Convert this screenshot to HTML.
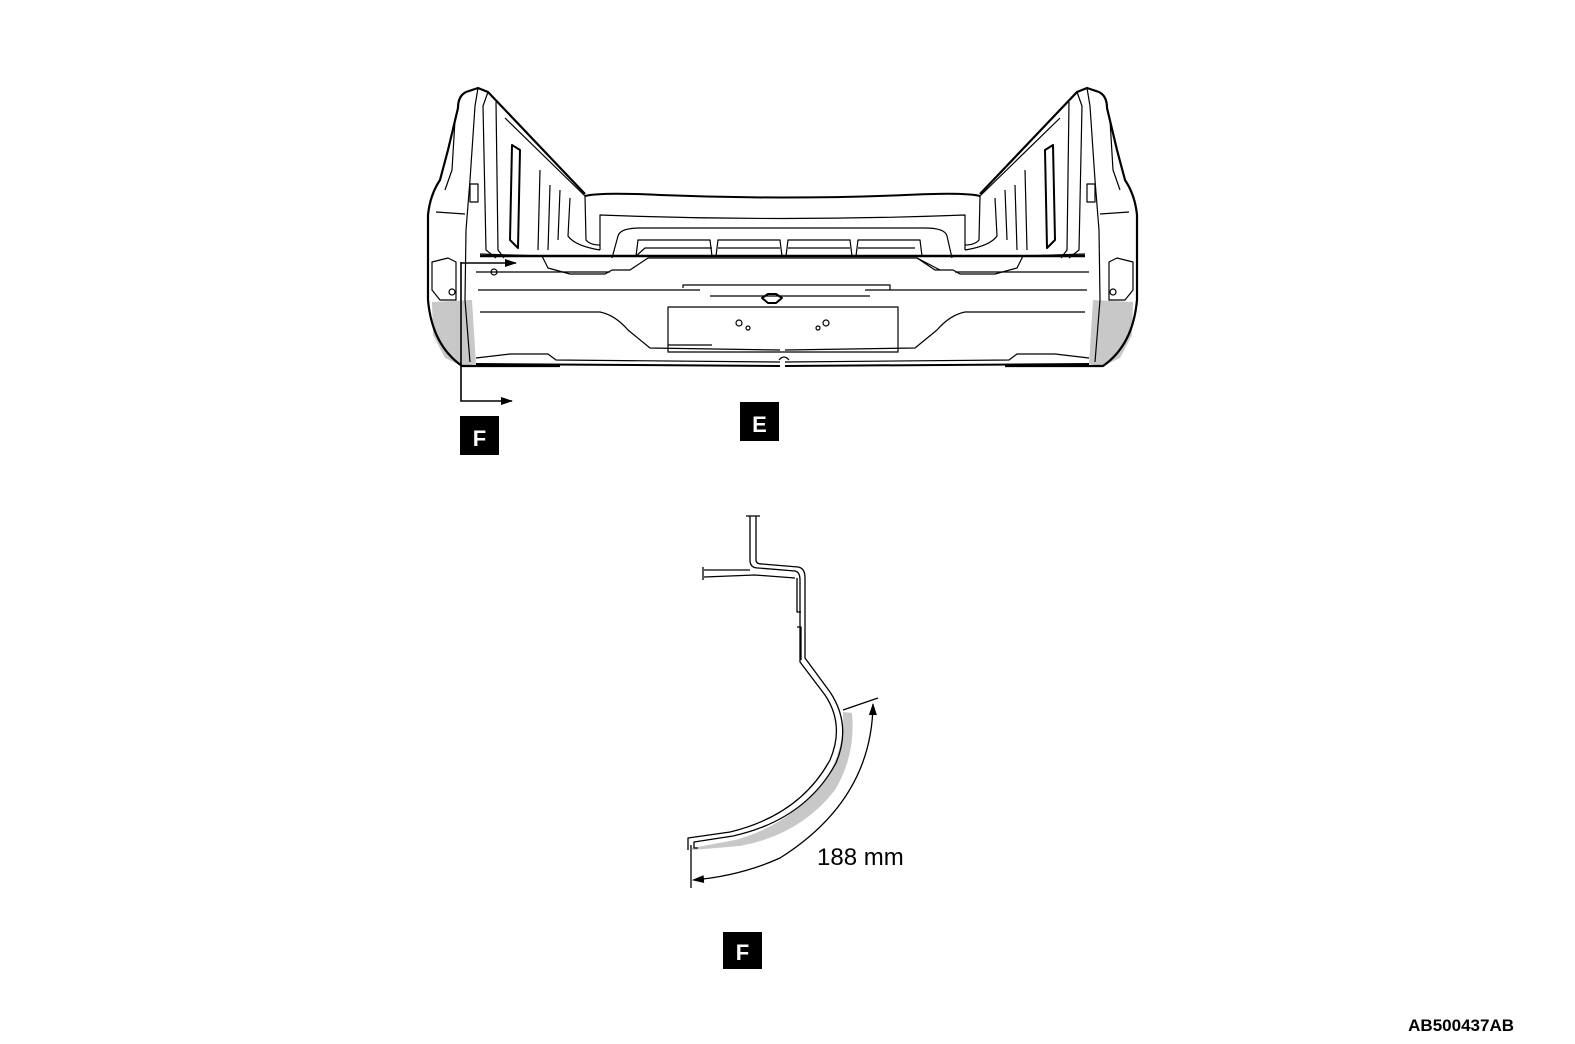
<!DOCTYPE html>
<html><head><meta charset="utf-8"><style>
html,body{margin:0;padding:0;background:#fff;}
svg{display:block;}
text{font-family:"Liberation Sans",Arial,sans-serif;}
</style></head><body>
<svg width="1575" height="1044" viewBox="0 0 1575 1044" xmlns="http://www.w3.org/2000/svg">
<defs>
<marker id="ah" markerWidth="12" markerHeight="8" refX="11" refY="4" orient="auto-start-reverse" markerUnits="userSpaceOnUse">
<path d="M0,0 L12,4 L0,8 z" fill="#000"/></marker>
</defs>
<g fill="none" stroke="#000" stroke-width="1.2" stroke-linejoin="round">
<g id="half">
<path d="M432,302 L433,335 L445,358 L462,366 L476,364 L472,300 Z" fill="#c8c8c8" stroke="none"/>
<path d="M466,92 L478,88 L488,92 L585,194" stroke-width="2.2"/>
<path d="M466,92 Q458,96 458,108 L448,150 L440,180 Q430,195 428,215 L428,300 Q432,345 462,366 L560,366" stroke-width="2.2"/>
<path d="M478,88 L475,106 L470,180 L466,230 L465,300 L470,362"/>
<path d="M488,92 L483,106 L486,250 L496,258"/>
<path d="M496,102 L498,250 L504,258"/>
<path d="M436,212 L465,214"/>
<path d="M445,190 L452,170 L455,120"/>
<path d="M505,118 L585,196"/>
<path d="M512,145 L510,240 L518,248 L520,150 Z" stroke-width="2"/>
<path d="M540,170 L538,250 M550,185 L548,250 M560,190 L558,240 M570,198 L568,236 Q575,246 600,250"/>
<path d="M585,196 L586,240 Q590,245 600,245"/>
<path d="M432,262 L448,258 L456,262 L456,300 L440,300 L432,290 Z"/>
<circle cx="452" cy="292" r="3"/>
<path d="M480,254 L542,256 L548,268 L570,274 L605,274 L612,270 L630,270 L648,258"/>
<path d="M476,272 L610,272"/>
<path d="M478,290 L700,290"/>
<path d="M480,312 L600,312 Q615,315 628,330 L650,348 L780,350"/>
<path d="M476,358 L510,354 L548,354 L556,360 L780,362" />
<path d="M476,364 L780,366" stroke-width="2"/>
<path d="M470,184 L478,184 L478,202 L470,202 Z"/>
</g>
<use href="#half" transform="translate(1565,0) scale(-1,1)"/>
<path d="M585,196 Q600,192 660,195 Q782,200 905,195 Q965,192 980,196" stroke-width="2"/>
<path d="M600,250 L600,215 Q782,222 965,215 L965,250"/>
<path d="M612,258 L618,236 Q620,228 640,228 L925,228 Q945,228 947,236 L952,258"/>
<path d="M636,256 L638,240 L710,240 L712,256 M716,256 L718,240 L780,240 L782,256 M786,256 L788,240 L850,240 L852,256 M856,256 L858,240 L920,240 L922,256"/>
<path d="M636,256 L645,248 L712,248 M718,248 L780,248 M788,248 L850,248 M858,248 L915,248"/>
<path d="M480,256 L1085,256" stroke-width="2.4"/>
<path d="M648,258 L917,258 L940,270"/>
<path d="M683,288 L683,285 L890,285 L890,290"/>
<path d="M710,296 L870,296"/>
<path d="M668,307 L898,307 L898,352 L668,352 Z"/>
<path d="M668,345 L712,345"/>
<path d="M762,298 L768,294 L776,294 L782,298 L776,303 L768,303 Z" stroke-width="2"/>
<circle cx="739" cy="323" r="3"/><circle cx="748" cy="328" r="2"/>
<circle cx="826" cy="323" r="3"/><circle cx="818" cy="328" r="2"/>
<path d="M779,360 Q784,354 789,360"/>
</g>
<g stroke="#000" stroke-width="1.6" fill="none">
<path d="M461,262 L461,401 L512,401" marker-end="url(#ah)"/>
<path d="M461,263 L516,263" marker-end="url(#ah)"/>
<circle cx="494" cy="272" r="3" stroke-width="1.2"/>
</g>
<rect x="460" y="416" width="39" height="39" fill="#000"/>
<text x="479.5" y="446" font-size="22" font-weight="bold" fill="#fff" text-anchor="middle">F</text>
<rect x="740" y="402" width="39" height="39" fill="#000"/>
<text x="759.5" y="432" font-size="22" font-weight="bold" fill="#fff" text-anchor="middle">E</text>
<path d="M843,712 Q845,750 825,780 Q790,825 735,840 L692,848 L692,850 L740,846 Q800,835 835,790 Q856,755 852,713 Z" fill="#c8c8c8"/>
<g fill="none" stroke="#000" stroke-width="1.3" stroke-linejoin="round">
<path d="M750,516 L750,560 Q750,568 758,568 L795,571 Q800,572 800,580 L800,662 L825,695 Q845,725 830,760 Q800,815 730,832 L688,838 L688,850"/>
<path d="M756,516 L756,560 Q756,564 762,564 L798,567 Q805,568 805,578 L805,658 L830,692 Q852,725 836,763 Q805,820 733,836 L694,842 L694,848 L698,848"/>
<path d="M704,570 L750,570 M704,577 L755,575 L795,578"/>
<path d="M797,578 L797,612 L801,612 M797,627 L801,627 L801,660"/>
<path d="M746,516 L760,516 M703,567 L703,580"/>
<path d="M843,710 L878,698"/>
<path d="M691,845 L691,888"/>
<path d="M873,704 Q872,800 780,858 Q740,876 693,880" marker-start="url(#ah)" marker-end="url(#ah)"/>
</g>
<text x="817" y="865" font-size="24" fill="#000">188 mm</text>
<rect x="723" y="932" width="39" height="37" fill="#000"/>
<text x="742.5" y="960" font-size="22" font-weight="bold" fill="#fff" text-anchor="middle">F</text>
<text x="1514" y="1031" font-size="17" font-weight="bold" fill="#000" text-anchor="end">AB500437AB</text>
</svg>
</body></html>
